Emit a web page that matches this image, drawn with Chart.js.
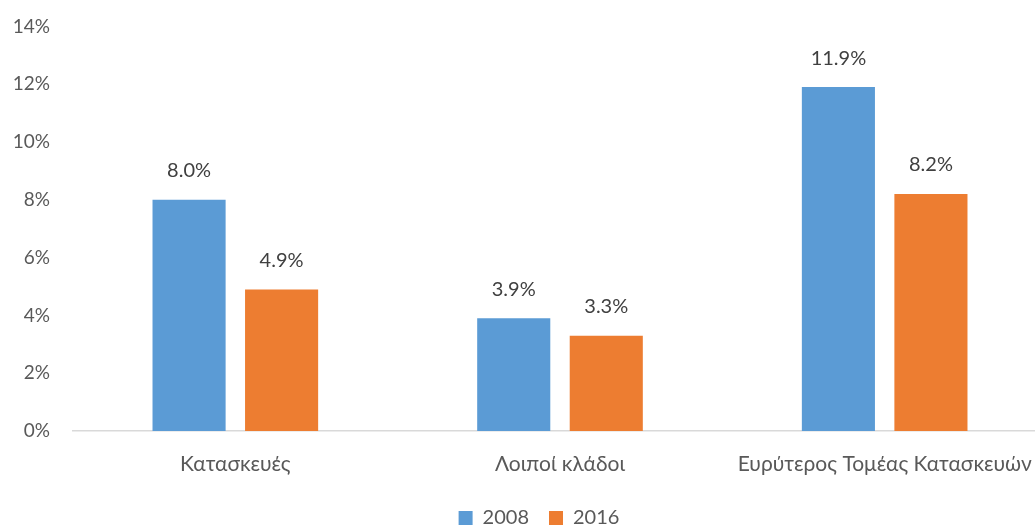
<!DOCTYPE html>
<html>
<head>
<meta charset="utf-8">
<script src="https://cdn.jsdelivr.net/npm/chart.js@4"></script>
<style>
html,body{margin:0;padding:0;background:#fff;overflow:hidden;width:1035px;height:527px;}
canvas{display:block;margin-top:-8px;}
</style>
</head>
<body>
<canvas id="c" width="1078" height="546"></canvas>
<script>
const categories = ["Κατασκευές", "Λοιποί κλάδοι", "Ευρύτερος Τομέας Κατασκευών"];
const seriesNames = ["2008", "2016"];
const values2008 = [8.0, 3.9, 11.9];
const values2016 = [4.9, 3.3, 8.2];
const yTicks = [0, 2, 4, 6, 8, 10, 12, 14];

const FONT = "Lato, 'Open Sans', sans-serif";

const dataLabels = {
  id: 'dataLabels',
  afterDatasetsDraw(chart) {
    const ctx = chart.ctx;
    ctx.save();
    ctx.font = "20px " + FONT;
    ctx.fillStyle = "#404040";
    ctx.textAlign = "center";
    ctx.textBaseline = "middle";
    chart.data.datasets.forEach((ds, i) => {
      chart.getDatasetMeta(i).data.forEach((bar, j) => {
        ctx.fillText(ds.data[j].toFixed(1) + "%", bar.x, bar.y - 29);
      });
    });
    ctx.restore();
  }
};

new Chart(document.getElementById('c'), {
  type: 'bar',
  data: {
    labels: categories,
    datasets: [
      { label: seriesNames[0], data: values2008, backgroundColor: "#5B9BD5", categoryPercentage: 0.57, barPercentage: 0.79 },
      { label: seriesNames[1], data: values2016, backgroundColor: "#ED7D31", categoryPercentage: 0.57, barPercentage: 0.79 }
    ]
  },
  options: {
    responsive: false,
    animation: false,
    devicePixelRatio: 1,
    layout: { padding: { top: 18, left: 0, right: 0, bottom: 0 } },
    plugins: {
      tooltip: { enabled: false },
      legend: {
        position: 'bottom',
        labels: {
          boxWidth: 14, boxHeight: 14, padding: 20,
          color: "#595959",
          font: { family: FONT, size: 20 }
        }
      }
    },
    scales: {
      x: {
        grid: { display: false, drawTicks: false },
        border: { display: true, color: "#D9D9D9", width: 1.5 },
        ticks: { color: "#595959", font: { family: FONT, size: 21 }, padding: 21, maxRotation: 0, autoSkip: false },
        afterFit: s => { s.height = 57; }
      },
      y: {
        min: 0, max: 14,
        afterBuildTicks: s => { s.ticks = yTicks.map(v => ({ value: v })); },
        grid: { display: false, drawTicks: false },
        border: { display: false },
        ticks: { color: "#595959", font: { family: FONT, size: 19 }, padding: 23, callback: v => v + "%" },
        afterFit: s => { s.width = 73; }
      },
      y2: {
        position: 'right',
        display: true,
        grid: { display: false, drawTicks: false },
        border: { display: false },
        ticks: { display: false },
        afterFit: s => { s.width = 31; }
      }
    }
  },
  plugins: [dataLabels]
});
</script>
</body>
</html>
